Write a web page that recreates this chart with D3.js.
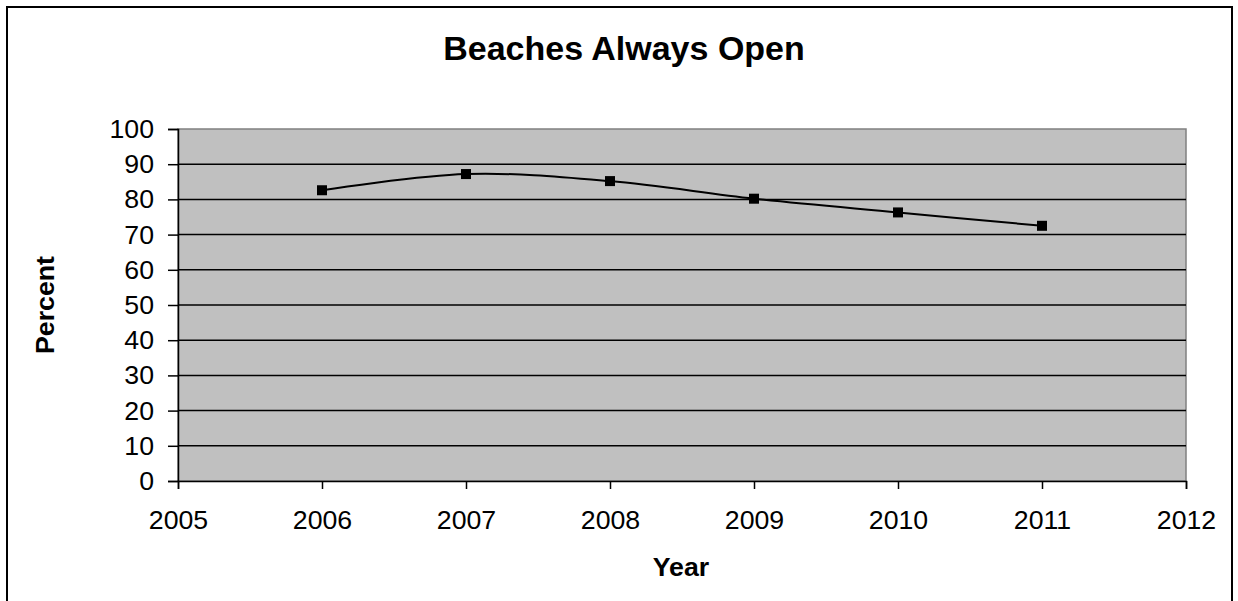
<!DOCTYPE html>
<html>
<head>
<meta charset="utf-8">
<script src="https://cdn.jsdelivr.net/npm/d3@7"></script>
<style>
  html, body { margin: 0; padding: 0; background: #fff; }
  svg { display: block; font-family: "Liberation Sans", Arial, sans-serif; }
</style>
</head>
<body>
<svg id="chart" width="1238" height="601"></svg>
<script>
// Share of beaches that stayed open all season
const years = [2006, 2007, 2008, 2009, 2010, 2011];
const percentOpen = [82.6, 87.2, 85.2, 80.2, 76.3, 72.5];
const xTicks = [2005, 2006, 2007, 2008, 2009, 2010, 2011, 2012];
const yTicks = [0, 10, 20, 30, 40, 50, 60, 70, 80, 90, 100];

const svg = d3.select("#chart");
const plot = { left: 178, top: 129, right: 1186, bottom: 481 };
const labelFont = "Liberation Sans, Arial, sans-serif";

const x = d3.scaleLinear().domain([2005, 2012]).range([plot.left, plot.right]);
const y = d3.scaleLinear().domain([0, 100]).range([plot.bottom, plot.top]);

// Outer chart frame
svg.append("rect")
  .attr("x", 7).attr("y", 7).attr("width", 1225).attr("height", 600)
  .attr("fill", "#fff").attr("stroke", "#000").attr("stroke-width", 2);

// Plot area background
svg.append("rect")
  .attr("x", plot.left).attr("y", plot.top)
  .attr("width", plot.right - plot.left).attr("height", plot.bottom - plot.top)
  .attr("fill", "#c0c0c0").attr("stroke", "#808080").attr("stroke-width", 1.5);

// Horizontal gridlines
svg.append("g")
  .selectAll("line")
  .data(yTicks.filter(d => d > 0 && d < 100))
  .join("line")
  .attr("x1", plot.left).attr("x2", plot.right)
  .attr("y1", d => y(d)).attr("y2", d => y(d))
  .attr("stroke", "#000").attr("stroke-width", 1.5);

// Y axis
const yAxis = svg.append("g")
  .attr("transform", `translate(${plot.left},0)`)
  .call(d3.axisLeft(y).tickValues(yTicks).tickSize(10).tickPadding(14).tickFormat(d3.format("d")));
yAxis.select(".domain").attr("stroke", "#000").attr("stroke-width", 1.5);
yAxis.selectAll(".tick line").attr("stroke", "#000").attr("stroke-width", 1.5);
yAxis.selectAll("text").attr("font-size", 26.7).attr("fill", "#000")
  .attr("font-family", labelFont);

// X axis
const xAxis = svg.append("g")
  .attr("transform", `translate(0,${plot.bottom})`)
  .call(d3.axisBottom(x).tickValues(xTicks).tickSize(8).tickPadding(21).tickFormat(d3.format("d")));
xAxis.select(".domain").attr("stroke", "#000").attr("stroke-width", 1.5);
xAxis.selectAll(".tick line").attr("stroke", "#000").attr("stroke-width", 1.5);
xAxis.selectAll("text").attr("font-size", 26.7).attr("fill", "#000")
  .attr("font-family", labelFont);

// Smoothed series line
const pts = years.map((yr, i) => [yr, percentOpen[i]]);
svg.append("path")
  .datum(pts)
  .attr("fill", "none").attr("stroke", "#000").attr("stroke-width", 2)
  .attr("d", d3.line().x(d => x(d[0])).y(d => y(d[1])).curve(d3.curveCardinal.tension(0)));

// Square markers
svg.append("g")
  .selectAll("rect")
  .data(pts)
  .join("rect")
  .attr("x", d => x(d[0]) - 5).attr("y", d => y(d[1]) - 5)
  .attr("width", 10).attr("height", 10)
  .attr("fill", "#000");

// Title and axis titles
svg.append("text")
  .attr("x", 624).attr("y", 60).attr("text-anchor", "middle")
  .attr("font-size", 34).attr("font-weight", "bold").text("Beaches Always Open");

svg.append("text")
  .attr("x", 681).attr("y", 576).attr("text-anchor", "middle")
  .attr("font-size", 26.7).attr("font-weight", "bold").text("Year");

svg.append("text")
  .attr("transform", "translate(54,305) rotate(-90)").attr("text-anchor", "middle")
  .attr("font-size", 26.7).attr("font-weight", "bold").text("Percent");
</script>
</body>
</html>
